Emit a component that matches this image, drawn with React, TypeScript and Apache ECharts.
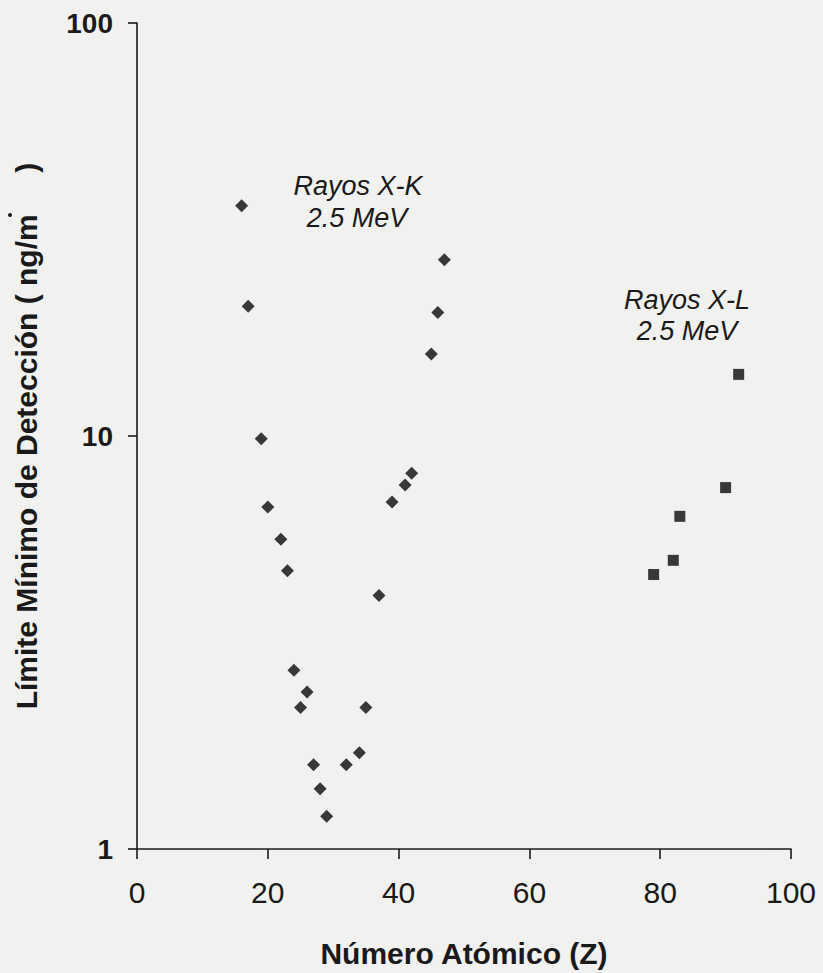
import React, { useEffect, useRef } from "react";
import * as echarts from "echarts";

// Rayos X-K (diamonds)
const kZ = [16, 17, 19, 20, 22, 23, 24, 25, 26, 27, 28, 29, 32, 34, 35, 37, 39, 41, 42, 45, 46, 47];
const kLMD = [36.1, 20.6, 9.85, 6.73, 5.62, 4.72, 2.71, 2.2, 2.4, 1.6, 1.4, 1.2, 1.6, 1.71, 2.2, 4.11, 6.92, 7.61, 8.13, 15.8, 19.9, 26.7];

// Rayos X-L (squares)
const lZ = [79, 82, 83, 90, 92];
const lLMD = [4.62, 5.0, 6.39, 7.5, 14.1];

const xTicks = [0, 20, 40, 60, 80, 100];
const yTicks = [1, 10, 100];

const xName = "Número Atómico (Z)";
const yName = "Límite Mínimo de Detección ( ng/m\u00A0\u00A0\u00A0\u00A0\u00A0)";
const kLabel = ["Rayos X-K", "2.5 MeV"];
const lLabel = ["Rayos X-L", "2.5 MeV"];

const INK = "#1a1a1a";
const FONT = "'Liberation Sans', Arial, sans-serif";

export default function App() {
  const ref = useRef<HTMLDivElement>(null);
  useEffect(() => {
    if (!ref.current) return;
    const chart = echarts.init(ref.current, undefined, { renderer: "svg" });
    const kData = kZ.map((z, i) => [z, kLMD[i]]);
    const lData = lZ.map((z, i) => [z, lLMD[i]]);
    const note = (text: string, x: number, y: number) => ({
      type: "text",
      x,
      y,
      style: { text, fontFamily: FONT, fontStyle: "italic", fontSize: 27, fill: INK, align: "center", verticalAlign: "middle" },
    });
    chart.setOption({
      animation: false,
      backgroundColor: "#f1f1ef",
      grid: { left: 137, right: 32, top: 23, bottom: 115 },
      xAxis: {
        type: "value",
        min: xTicks[0],
        max: xTicks[xTicks.length - 1],
        interval: 20,
        name: xName,
        nameLocation: "middle",
        nameGap: 89,
        nameTextStyle: { fontFamily: FONT, fontWeight: "bold", fontSize: 30, color: INK },
        axisLine: { show: true, onZero: false, lineStyle: { color: INK, width: 1.6 } },
        axisTick: { show: true, inside: false, length: 10, lineStyle: { color: INK, width: 1.6 } },
        axisLabel: { margin: 28, fontFamily: FONT, fontSize: 30, color: INK },
        splitLine: { show: false },
      },
      yAxis: {
        type: "log",
        logBase: 10,
        min: yTicks[0],
        max: yTicks[yTicks.length - 1],
        name: yName,
        nameLocation: "middle",
        nameRotate: 90,
        nameGap: 96,
        nameTextStyle: { fontFamily: "'Liberation Sans Narrow', 'Arial Narrow', sans-serif", fontWeight: "bold", fontSize: 30, color: INK },
        axisLine: { show: true, lineStyle: { color: INK, width: 1.6 } },
        axisTick: { show: true, inside: false, length: 9, lineStyle: { color: INK, width: 1.6 } },
        axisLabel: { margin: 24, fontFamily: FONT, fontWeight: "bold", fontSize: 28, color: INK },
        splitLine: { show: false },
        minorTick: { show: false },
      },
      graphic: [
        { type: "circle", shape: { cx: 10, cy: 215, r: 2 }, style: { fill: INK } },
        note(kLabel[0], 358, 186),
        note(kLabel[1], 357, 218),
        note(lLabel[0], 687, 300),
        note(lLabel[1], 687, 331),
      ],
      series: [
        {
          name: "Rayos X-K",
          type: "scatter",
          data: kData,
          symbol: "diamond",
          symbolSize: 13,
          itemStyle: { color: "#0a0a0a" },
        },
        {
          name: "Rayos X-L",
          type: "scatter",
          data: lData,
          symbol: "rect",
          symbolSize: 11,
          itemStyle: { color: "#0a0a0a" },
        },
      ],
    });
    return () => chart.dispose();
  }, []);
  return <div ref={ref} style={{ position: "fixed", left: 0, top: 0, width: 823, height: 973 }} />;
}
